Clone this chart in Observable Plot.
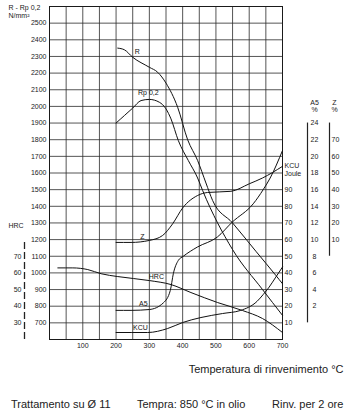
<!DOCTYPE html>
<html><head><meta charset="utf-8">
<script src="https://cdn.jsdelivr.net/npm/d3@7"></script>
<script src="https://cdn.jsdelivr.net/npm/@observablehq/plot@0.6"></script>
<style>
body{margin:0;background:#fff;font-family:"Liberation Sans",Arial,Helvetica,sans-serif;}
#caption{position:relative;width:354px;height:28px;font-size:11px;color:#222;}
#caption span{position:absolute;top:8px;line-height:12px;white-space:nowrap;}
</style></head><body>
<div id="chart"></div>
<div id="caption"><span style="left:11px">Trattamento su Ø 11</span><span style="left:137px">Tempra: 850 °C in olio</span><span style="left:272px">Rinv. per 2 ore</span></div>
<script>
// ---- data (temperature °C -> value) ----
const rT   = [205,225,250,300,325,350,385,415,445,470,490,550,620,680,700];
const rV   = [2350,2340,2295,2235,2205,2140,1995,1800,1675,1540,1435,1300,1130,985,935];
const rpT  = [200,225,250,275,300,330,350,365,387,417,445,460,550,640,700];
const rpV  = [1900,1945,1990,2035,2042,2025,1985,1925,1795,1675,1570,1495,1140,900,745];
const zT   = [200,245,300,340,370,400,445,475,545,600,640,700];
const zV   = [8.3,8.3,9.5,12.5,19.5,29,36.5,38.3,39,43.5,47,54];
const a5T  = [200,245,300,342,363,372,387,402,444,504,549,612,642,663,700];
const a5V  = [1.5,1.5,1.6,2.4,3.9,5.9,7.5,8.0,9.1,10.3,12.1,14.3,16.0,17.4,20.7];
const hrcT = [25,70,115,155,205,300,365,425,505,580,640,700];
const hrcV = [63,63,62,59.5,57.8,55.4,53,48.2,42.2,37.4,32.6,24.2];
const kcuT = [200,295,355,400,455,520,573,624,642,660,680,700];
const kcuV = [4.2,4.2,6.6,10.2,13.2,15.6,17.4,23,27,31.5,37.5,43.5];

// ---- axes / ticks ----
const xDomain = [0,700];
const yDomain = [600,2600];
const xTicks = [100,200,300,400,500,600,700];
const xGrid = [50,100,150,200,250,300,350,400,450,500,550,600,650];
const yTicks = [700,800,900,1000,1100,1200,1300,1400,1500,1600,1700,1800,1900,2000,2100,2200,2300,2400,2500];
const kcuTicks = [10,20,30,40,50,60,70,80,90];
const a5Ticks = [2,4,6,8,10,12,14,16,18,20,22,24];
const zTicks = [10,20,30,40,50,60,70];
const hrcTicks = [30,40,50,60,70];

// secondary scale mappings onto the N/mm² scale
const kcuToMain = v => 600 + 10*v;
const a5ToMain  = v => 700 + 50*v;
const zToMain   = v => 1100 + 10*v;
const hrcToMain = v => 400 + 10*v;

const ser = (T, V, f = v => v) => T.map((t,i) => ({t, v: f(V[i])}));
const R   = ser(rT, rV), RP = ser(rpT, rpV), Z = ser(zT, zV, zToMain),
      A5  = ser(a5T, a5V, a5ToMain), HRC = ser(hrcT, hrcV, hrcToMain), KCU = ser(kcuT, kcuV, kcuToMain);
const interp = (s, t) => d3.scaleLinear().domain(s.map(d=>d.t)).range(s.map(d=>d.v))(t);

const curveLabels = [
  {s: R,   t: 264, text: "R",      dy: -8},
  {s: RP,  t: 297, text: "Rp 0,2", dy: -7},
  {s: Z,   t: 279, text: "Z",      dy: -4},
  {s: HRC, t: 321, text: "HRC",    dy: -5},
  {s: A5,  t: 282, text: "A5",     dy: -6},
  {s: KCU, t: 273, text: "KCU",    dy: -5}
];

const W = 354, H = 390;
const lineOpts = {x: "t", y: "v", curve: "monotone-x", stroke: "#111", strokeWidth: 1};
const gridOpts = {stroke: "#2a2a2a", strokeOpacity: 1, strokeWidth: 0.8};
const fmt = d => String(d);

const chart = Plot.plot({
  width: W, height: H,
  marginLeft: 49, marginRight: 72, marginTop: 6, marginBottom: H - 339,
  x: {domain: xDomain},
  y: {domain: yDomain},
  style: {fontFamily: "'Liberation Sans', Arial, Helvetica, sans-serif", fontSize: "7px", color: "#1a1a1a", background: "#fff"},
  marks: [
    Plot.gridY(yTicks, gridOpts),
    Plot.gridX(xGrid, gridOpts),
    Plot.frame({stroke: "#1a1a1a", strokeWidth: 1}),
    Plot.axisY(yTicks, {anchor: "left", tickSize: 0, tickPadding: 3, label: null, tickFormat: fmt}),
    Plot.axisX(xTicks, {anchor: "bottom", tickSize: 0, tickPadding: 4, label: null, tickFormat: fmt}),
    // KCU Joule axis (right edge)
    Plot.text(kcuTicks, {y: kcuToMain, text: fmt, frameAnchor: "right", dx: 2, textAnchor: "start"}),
    Plot.text(["KCU\nJoule"], {y: [kcuToMain(90)], frameAnchor: "right", dx: 2, dy: -20, textAnchor: "start", lineHeight: 1.15}),
    // A5 axis
    Plot.ruleX([xDomain[1]], {y1: a5ToMain(0), y2: a5ToMain(24), dx: 25, stroke: "#222", strokeWidth: 1.2}),
    Plot.text(a5Ticks, {y: a5ToMain, text: fmt, frameAnchor: "right", dx: 32, textAnchor: "middle"}),
    Plot.text(["A5\n%"], {y: [a5ToMain(24)], frameAnchor: "right", dx: 32, dy: -17, textAnchor: "middle", lineHeight: 0.95}),
    // Z axis
    Plot.ruleX([xDomain[1]], {y1: zToMain(0), y2: zToMain(80), dx: 47, stroke: "#222", strokeWidth: 1.2}),
    Plot.text(zTicks, {y: zToMain, text: fmt, frameAnchor: "right", dx: 53, textAnchor: "middle"}),
    Plot.text(["Z\n%"], {y: [a5ToMain(24)], frameAnchor: "right", dx: 52, dy: -17, textAnchor: "middle", lineHeight: 0.95}),
    // HRC axis (left, dashed)
    Plot.ruleX([xDomain[0]], {y1: hrcToMain(20), y2: hrcToMain(80), dx: -25, stroke: "#222", strokeWidth: 1.3, strokeDasharray: "7,3"}),
    Plot.text(hrcTicks, {y: hrcToMain, text: fmt, frameAnchor: "left", dx: -28, textAnchor: "end"}),
    Plot.text(["HRC"], {y: [hrcToMain(80)], frameAnchor: "left", dx: -33.5, dy: -14, textAnchor: "middle"}),
    // curves
    Plot.line(R, lineOpts),
    Plot.line(RP, lineOpts),
    Plot.line(Z, lineOpts),
    Plot.line(A5, lineOpts),
    Plot.line(HRC, lineOpts),
    Plot.line(KCU, lineOpts),
    ...curveLabels.map(l => Plot.text([l], {x: "t", y: d => interp(d.s, d.t), text: "text", dy: l.dy, fill: "#111"})),
    // titles
    Plot.text(["R - Rp 0,2\nN/mm²"], {frameAnchor: "top-left", dx: -41, dy: -2, textAnchor: "start", lineAnchor: "top", lineHeight: 1.1}),
    Plot.text(["Temperatura di rinvenimento °C"], {frameAnchor: "bottom-right", dx: 61, dy: 33, textAnchor: "end", fontSize: 11})
  ]
});
document.getElementById("chart").appendChild(chart);
</script>
</body></html>
